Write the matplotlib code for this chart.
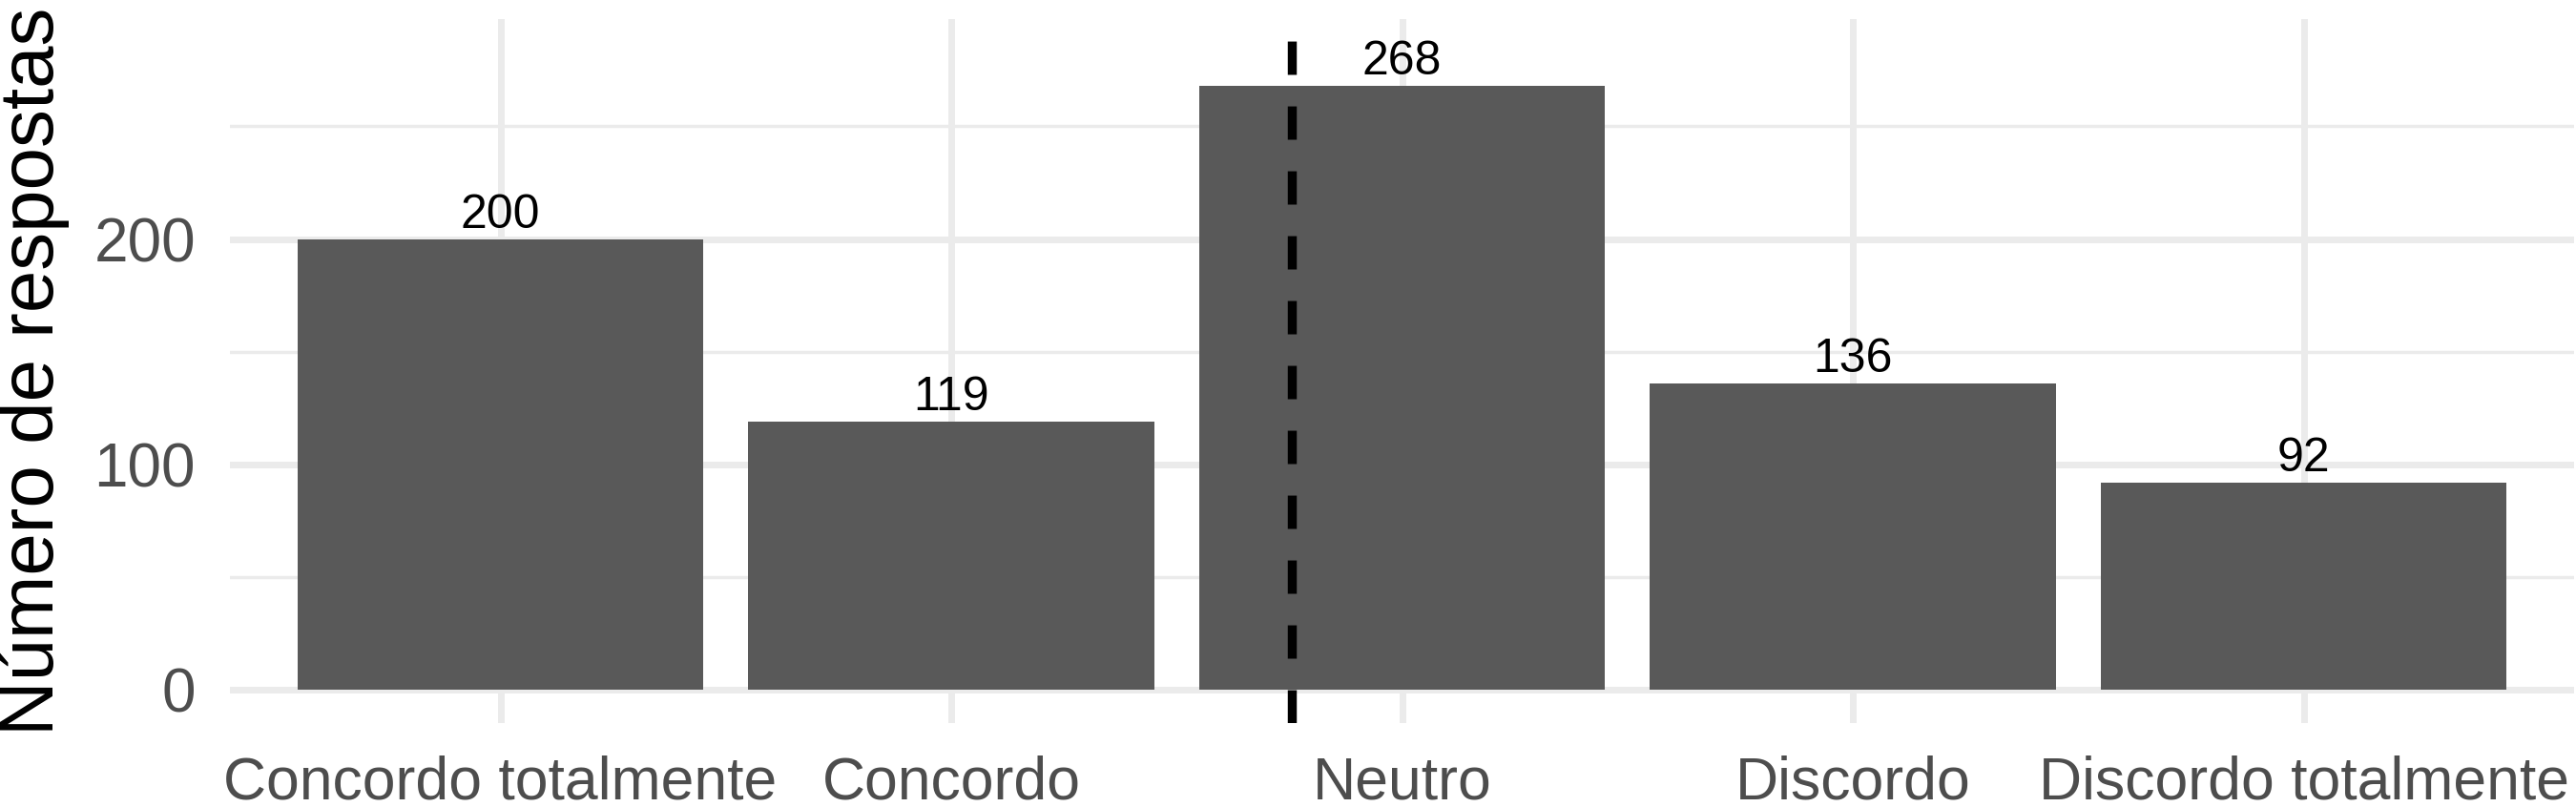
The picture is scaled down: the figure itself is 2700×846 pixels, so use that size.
import matplotlib
matplotlib.use("Agg")
import matplotlib.pyplot as plt
import numpy as np

# dados das respostas
categorias = ["Concordo totalmente", "Concordo", "Neutro", "Discordo", "Discordo totalmente"]
respostas = [200, 119, 268, 136, 92]

plt.rcParams["font.family"] = ["Liberation Sans", "DejaVu Sans"]

# média das respostas (escala 1..5) para a linha tracejada
pesos = np.arange(1, len(respostas) + 1)
media = np.sum(pesos * np.array(respostas)) / np.sum(respostas)

fig = plt.figure(figsize=(27, 8.46), dpi=100)
ax = fig.add_axes([241 / 2700, 1 - 758 / 846, 2457 / 2700, 738 / 846])

x = np.arange(len(categorias))
ax.bar(x, respostas, width=0.9, color="#595959", zorder=2)

for xi, v in zip(x, respostas):
    ax.annotate(str(v), (xi, v), xytext=(0, 8.6), textcoords="offset points",
                ha="center", va="baseline", fontsize=36, color="black", zorder=4)

ax.axvline(media - 1, color="black", lw=6.8, linestyle=(0, (3.7, 3.5)), zorder=3)

ax.set_xlim(-0.6, 4.6)
ax.set_ylim(-14.8, 297.6)
ax.set_xticks(x)
ax.set_xticklabels(categorias)
ax.set_yticks([0, 100, 200])
ax.set_yticks([50, 150, 250], minor=True)

ax.grid(which="major", color="#EBEBEB", lw=5, zorder=0)
ax.grid(which="minor", axis="y", color="#EBEBEB", lw=2.5, zorder=0)
ax.set_axisbelow(True)

for s in ax.spines.values():
    s.set_visible(False)
ax.tick_params(axis="both", which="both", length=0, labelsize=45, labelcolor="#4D4D4D")
ax.tick_params(axis="y", labelsize=46)
ax.tick_params(axis="x", pad=24)
ax.tick_params(axis="y", pad=26)

fig.text(35 / 2700, 1 - 389 / 846, "Número de respostas", rotation=90,
         ha="center", va="center", fontsize=57.5, color="black")

fig.savefig("out.png", dpi=100)
